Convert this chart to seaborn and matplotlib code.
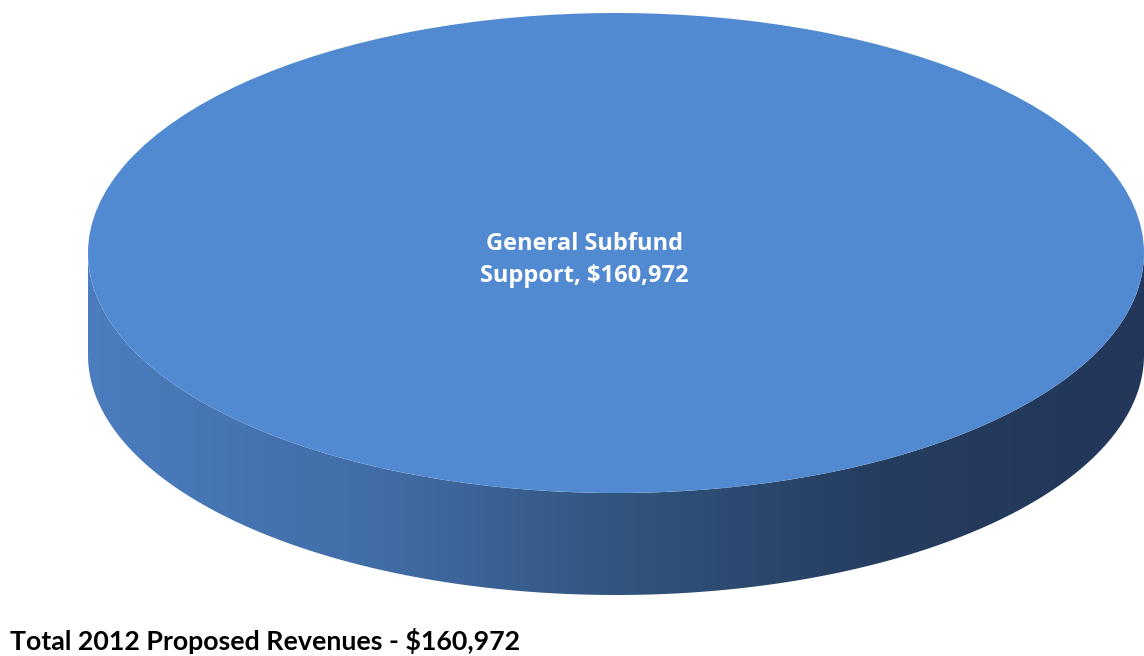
import numpy as np
import matplotlib
matplotlib.use("Agg")
import matplotlib.pyplot as plt
from matplotlib.colors import LinearSegmentedColormap
from matplotlib.patches import Polygon
import seaborn as sns

# Revenue sources for the 2012 proposed budget
categories = ["General Subfund Support"]
values = [160972]
label_texts = ["General Subfund\nSupport, $160,972"]
title_text = "Total 2012 Proposed Revenues - $160,972"

sns.set_theme(style="white")
plt.rcParams["font.family"] = ["Lato", "DejaVu Sans"]

W, H = 1144, 656
fig = plt.figure(figsize=(W / 100, H / 100), dpi=100)
ax = fig.add_axes([0, 0, 1, 1])
ax.set_axis_off()

# pie geometry (pixels): top face ellipse and extrusion depth
cx, cy = 616, 253
a, b = 528, 240
depth = 102
k = a / b  # vertical stretch so the pie circle becomes an ellipse on screen

top_color = "#528ad2"

# side wall of the extruded pie: lower half of the rim, shaded left-to-right
t = np.linspace(0, np.pi, 400)
xs = cx + a * np.cos(t)
y_top = (cy + b * np.sin(t)) * k
y_bot = (cy + depth + b * np.sin(t)) * k
verts = np.concatenate([
    np.column_stack([xs, y_bot]),
    np.column_stack([xs[::-1], y_top[::-1]]),
])
side = Polygon(verts, closed=True, facecolor="none", edgecolor="none")
ax.add_patch(side)

side_cmap = LinearSegmentedColormap.from_list(
    "side",
    [(0.0, "#4b7dbf"), (0.28, "#416ca6"), (0.5, "#32557f"),
     (0.75, "#253d5f"), (1.0, "#22375a")],
)
grad = np.linspace(0, 1, 512)[None, :]
img = ax.imshow(grad, cmap=side_cmap, aspect="auto",
                extent=(cx - a, cx + a, (cy + depth + b) * k, cy * k),
                zorder=1, interpolation="bilinear")
img.set_clip_path(side)

# top face drawn as a pie from the data
wedges, _ = ax.pie(values, labels=None, colors=[top_color], startangle=90,
                   counterclock=False, center=(cx, cy * k), radius=a,
                   frame=True, wedgeprops=dict(linewidth=0))
for w in wedges:
    w.set_zorder(2)
ax.set_xlim(0, W)
ax.set_ylim(H * k, 0)
ax.set_aspect("auto")
ax.set_axis_off()

# data label on the slice
ax.text(584, 260 * k, label_texts[0], color="white", fontsize=17,
        fontweight="bold", ha="center", va="center", linespacing=1.45,
        family=["Open Sans", "DejaVu Sans"], zorder=3)

# total line beneath the chart
fig.text(10 / W, 1 - 641 / H, title_text, color="black", fontsize=19.3,
         fontweight="bold", ha="left", va="center")

fig.savefig("out.png", dpi=100, facecolor="white")
